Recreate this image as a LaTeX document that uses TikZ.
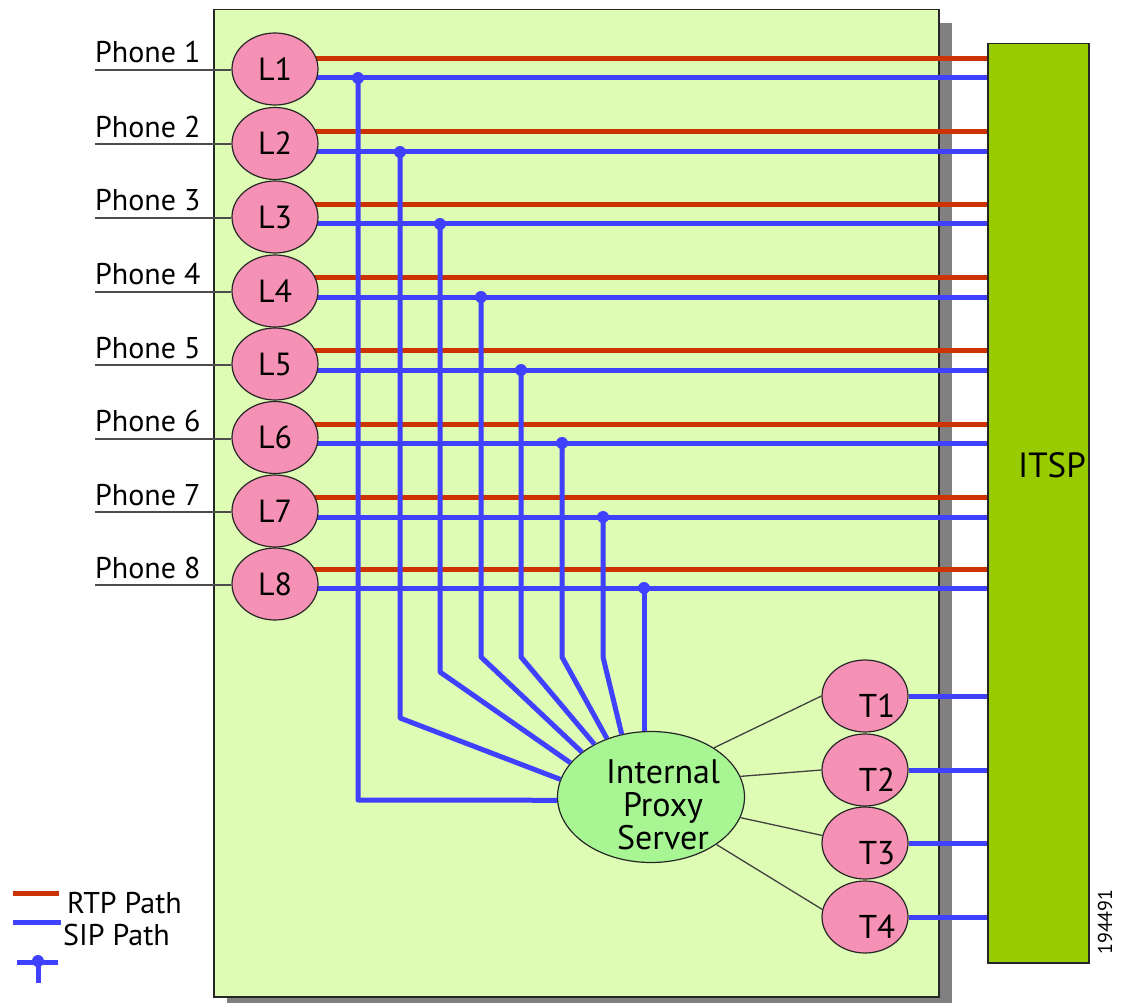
\documentclass[tikz,border=0pt]{standalone}
\usepackage{fontspec}
\setmainfont{PT Sans}
\usetikzlibrary{shapes.geometric}
\definecolor{boxfill}{RGB}{222,252,180}
\definecolor{pinkfill}{RGB}{245,145,180}
\definecolor{proxyfill}{RGB}{168,245,148}
\definecolor{itspfill}{RGB}{153,204,0}
\definecolor{rtpred}{RGB}{204,51,0}
\definecolor{sipblue}{RGB}{64,64,255}
\definecolor{shadowgray}{RGB}{128,128,128}
\tikzset{
  lnode/.style={ellipse, draw=black!85, line width=1.2pt, fill=pinkfill, minimum width=86pt, minimum height=72pt, inner sep=0pt, font=\fontsize{32}{34}\selectfont},
  tnode/.style={ellipse, draw=black!85, line width=1.2pt, fill=pinkfill, minimum width=86pt, minimum height=72pt, inner sep=0pt},
  tlabel/.style={font=\fontsize{33}{35}\selectfont, inner sep=0pt},
  phonelabel/.style={font=\fontsize{30}{32}\selectfont, anchor=base west, inner sep=0pt},
  rtp/.style={draw=rtpred, line width=5pt},
  sip/.style={draw=sipblue, line width=5pt},
  thin/.style={draw=black!75, line width=1.3pt},
  phoneline/.style={draw=black!70, line width=2pt},
  sipdot/.style={circle, fill=sipblue, inner sep=0pt, minimum size=12pt},
}
\begin{document}
\begin{tikzpicture}[x=1pt,y=-1pt]
\useasboundingbox (0,0) rectangle (1125,1003);
\fill[white] (0,0) rectangle (1125,1003);
% main box with shadow
\fill[shadowgray] (227,23) rectangle (952,1003);
\node[draw=black!85, line width=1.5pt, fill=boxfill, minimum width=725pt, minimum height=987pt, inner sep=0pt, anchor=north west] (main) at (213,9) {};
% ITSP
\node[draw=black!85, line width=1.5pt, fill=itspfill, minimum width=101pt, minimum height=919pt, inner sep=0pt, anchor=north west] (itsp) at (987,43) {};
\node[font=\fontsize{35}{37}\selectfont, inner sep=0pt] (itsptext) at (1052,465) {ITSP};
% RTP / SIP lines from each L node (drawn under the nodes)
\foreach \i/\y/\ry/\by in {1/69/59/78,2/143.5/132/152,3/217/205/224,4/291/278/297,5/364/350/370,6/437.5/424/443,7/511/497/517,8/584/569/588}{
  \coordinate (Lc\i) at (275,\y);
  \coordinate (r\i) at (275,\ry);
  \coordinate (s\i) at (275,\by);
  \draw[rtp] (r\i) -- (r\i -| itsp.west);
  \draw[sip] (s\i) -- (s\i -| itsp.west);
}
% L nodes and phones
\foreach \i in {1,...,8}{
  \node[lnode] (L\i) at (Lc\i) {L\i};
  \coordinate (ph\i) at ([yshift=-1pt]L\i.center -| 95,0);
  \node[phonelabel] (P\i) at ([yshift=7pt]ph\i) {Phone \i};
  \draw[phoneline] (ph\i) -- (L\i.west |- ph\i);
}
% Proxy
\node[ellipse, draw=black!85, line width=1.2pt, fill=proxyfill, minimum width=187pt, minimum height=131pt, inner sep=0pt] (proxy) at (651,797) {};
\node[font=\fontsize{34}{33}\selectfont, align=center, inner sep=0pt] (proxytext) at (663,805) {Internal\\Proxy\\Server};
% SIP branches to proxy
\foreach \i/\dx/\bend/\ang in {1/358/800/182,2/400/718/169,3/440/672/157,4/481/657/147.5,5/521/657/137,6/562/657/127.5,7/603/657/115.5}{
  \coordinate (d\i) at (\dx,0);
  \coordinate (b\i) at (\dx,\bend);
  \draw[sip, line join=round] (d\i |- s\i) -- (b\i) -- (proxy.\ang);
}
\coordinate (d8) at (644,0);
\draw[sip] (d8 |- s8) -- (d8 |- proxy.north);
\foreach \i in {1,...,8}{
  \node[sipdot] (dot\i) at (d\i |- s\i) {};
}
% T nodes
\foreach \i/\y/\pa/\ta in {1/696/38/180,2/770/13/180,3/843/-13/170,4/917/-36/170}{
  \node[tnode] (T\i) at (865,\y) {};
  \node[tlabel] (Tl\i) at (877,\y+10) {T\i};
  \draw[thin] (proxy.\pa) -- (T\i.\ta);
  \draw[sip] (T\i.east) -- (T\i.east -| itsp.west);
}
% Legend
\coordinate (lr1) at (13,893); \coordinate (lr2) at (59,893);
\draw[rtp] (lr1) -- (lr2);
\coordinate (lb1) at (13,922); \coordinate (lb2) at (61,922);
\draw[sip] (lb1) -- (lb2);
\coordinate (lt1) at (17,962); \coordinate (lt2) at (58,962); \coordinate (lt3) at (38,983);
\draw[sip] (lt1) -- (lt2);
\node[sipdot] (ltdot) at (38,961) {};
\draw[sip] (ltdot.center) -- (lt3);
\node[phonelabel] (rtplabel) at (67,913) {RTP Path};
\node[phonelabel] (siplabel) at (63,945) {SIP Path};
% figure number
\node[rotate=90, font=\fontsize{20}{22}\selectfont, inner sep=0pt] (fignum) at (1105,922) {194491};
\end{tikzpicture}
\end{document}
